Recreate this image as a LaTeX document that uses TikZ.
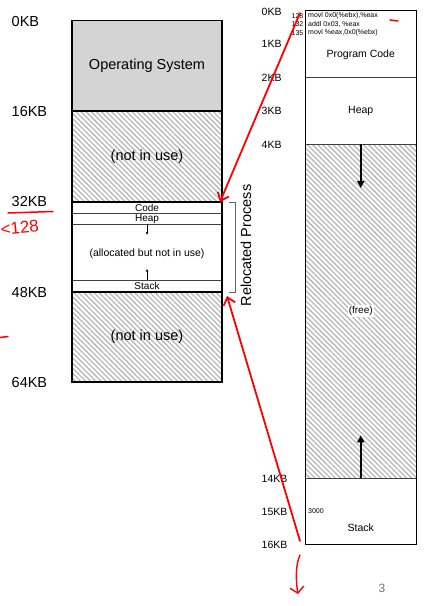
\documentclass[tikz,border=0pt]{standalone}
\usepackage{fontspec}
\setmainfont{Liberation Sans}
\usetikzlibrary{patterns.meta,arrows.meta}
\tikzset{
  region/.style={draw=black!75, line width=0.6pt, inner sep=0pt, outer sep=0pt},
  lcol/.style={region, minimum width=150pt},
  rcol/.style={region, minimum width=110.5pt},
  hatch/.style={pattern={Lines[angle=-45,distance=3.6pt,line width=1.3pt]}, pattern color=black!28},
  bigtxt/.style={font=\fontsize{14.5}{16}\selectfont},
  midtxt/.style={font=\fontsize{10.5}{12}\selectfont},
  smalltxt/.style={font=\fontsize{10}{11}\selectfont},
  codetxt/.style={font=\fontsize{7}{8}\selectfont, inner sep=0pt},
  redpen/.style={red, line width=1.8pt, line cap=round},
  redarrow/.style={redpen, -{Straight Barb[length=7pt,width=12pt,line width=1.8pt]}},
  growarrow/.style={line width=2.5pt, -{Triangle[length=7pt,width=7pt]}},
  tinyarrow/.style={line width=0.5pt, -{Stealth[length=3pt,width=2.6pt]}}
}
\begin{document}
\begin{tikzpicture}[x=1pt,y=-1pt]
\useasboundingbox (0,0) rectangle (428,606);
\fill[white] (0,0) rectangle (428,606);

% ---------- left column ----------
\node[lcol, fill=black!17, minimum height=90.5pt, bigtxt] (os) at (147,65.75) {Operating System};
\node[lcol, hatch, minimum height=91pt] (nu1) at (147,156.5) {};
\node[bigtxt] (nu1t) at (147,157) {(not in use)};
\node[lcol, fill=white, minimum height=11.3pt] (code) at (147,207.65) {};
\node[smalltxt] (codet) at (147,207.6) {Code};
\node[lcol, fill=white, minimum height=11pt] (heap) at (147,218.8) {};
\node[smalltxt] (heapt) at (147,218.8) {Heap};
\node[lcol, fill=white, minimum height=55.7pt] (alloc) at (147,252.15) {};
\node[font=\fontsize{10.5}{12}\selectfont] (alloct) at (147,254) {(allocated but not in use)};
\node[lcol, fill=white, minimum height=12pt] (stack) at (147,286) {};
\node[smalltxt] (stackt) at (147,286) {Stack};
\node[lcol, hatch, minimum height=90pt] (nu2) at (147,337) {};
\node[bigtxt] (nu2t) at (147,337) {(not in use)};

\draw[line width=1.6pt] (os.south west) -- (os.south east);
\draw[line width=1.6pt] (code.north west) -- (code.north east);
\draw[line width=1.6pt] (nu2.north west) -- (nu2.north east);
\draw[line width=1.8pt] (os.north west) rectangle (nu2.south east);

\draw[tinyarrow] (heap.south) -- ++(0,10.5);
\draw[tinyarrow] (stack.north) -- ++(0,-11);

% left address labels
\node[bigtxt, anchor=west, inner sep=0pt] (l0) at (11.5,22) {0KB};
\node[bigtxt, anchor=west, inner sep=0pt] (l16) at (11.5,111.5) {16KB};
\node[bigtxt, anchor=west, inner sep=0pt] (l32) at (11.5,202) {32KB};
\node[bigtxt, anchor=west, inner sep=0pt] (l48) at (11.5,292.5) {48KB};
\node[bigtxt, anchor=west, inner sep=0pt] (l64) at (11.5,382.5) {64KB};

% bracket
\coordinate (bt) at (229,202.5);
\coordinate (bb) at (229,292);
\draw[black!60, line width=0.9pt] (bt) -- (235.7,202.5) -- (235.7,292) -- (bb);
\node[bigtxt, rotate=90] (reloc) at (246,245.5) {Relocated Process};

% ---------- right column ----------
\node[rcol, fill=white, minimum height=67pt] (pcode) at (360.75,44.2) {};
\node[rcol, fill=white, minimum height=66.3pt] (rheap) at (360.75,110.85) {};
\node[rcol, hatch, minimum height=334.3pt] (free) at (360.75,311.15) {};
\node[rcol, fill=white, minimum height=65.7pt] (rstack) at (360.75,511.15) {};
\draw[line width=0.9pt] (pcode.north west) rectangle (rstack.south east);

\node[midtxt] (pcodet) at (360.75,55) {Program Code};
\node[midtxt] (rheapt) at (360.75,111) {Heap};
\node[smalltxt, fill=white, inner sep=1pt] (freet) at (360.75,311) {(free)};
\node[midtxt] (rstackt) at (360.75,528) {Stack};
\node[codetxt, anchor=west] (v3000) at (308,511) {3000};

\draw[growarrow] (rheap.south) -- ++(0,44);
\draw[growarrow] (rstack.north) -- ++(0,-43);

% code lines
\node[codetxt, anchor=east] (n1) at (303.5,16) {128};
\node[codetxt, anchor=east] (n2) at (303.5,24.3) {132};
\node[codetxt, anchor=east] (n3) at (303.5,33) {135};
\node[codetxt, anchor=west] (c1) at (308,16) {movl 0x0(\%ebx),\%eax};
\node[codetxt, anchor=west] (c2) at (308,24.3) {addl 0x03, \%eax};
\node[codetxt, anchor=west] (c3) at (308,33) {movl \%eax,0x0(\%ebx)};

% right address labels
\node[midtxt, anchor=west, inner sep=0pt] (r0) at (261.5,12) {0KB};
\node[midtxt, anchor=west, inner sep=0pt] (r1) at (261.5,44) {1KB};
\node[midtxt, anchor=west, inner sep=0pt] (r2) at (261.5,77.5) {2KB};
\node[midtxt, anchor=west, inner sep=0pt] (r3) at (261.5,111) {3KB};
\node[midtxt, anchor=west, inner sep=0pt] (r4) at (261.5,145) {4KB};
\node[midtxt, anchor=west, inner sep=0pt] (r14) at (261.5,478.5) {14KB};
\node[midtxt, anchor=west, inner sep=0pt] (r15) at (261.5,511.5) {15KB};
\node[midtxt, anchor=west, inner sep=0pt] (r16) at (261.5,545) {16KB};

% page number
\node[font=\fontsize{12}{14}\selectfont, text=black!55] (pg) at (382,588) {3};

% ---------- red annotations ----------
\coordinate (a1s) at (300,13);
\coordinate (a1e) at (220,202);
\draw[redarrow] (a1s) -- (a1e);
\coordinate (a2s) at (300,541);
\coordinate (a2e) at (227,296);
\draw[redarrow] (a2s) -- (a2e);
\coordinate (a3s) at (300,555);
\coordinate (a3e) at (298,594);
\draw[redpen, line width=1.4pt, -{Straight Barb[length=6pt,width=14pt,line width=1.4pt]}] (a3s) .. controls (295,566) and (296,582) .. (a3e);
\coordinate (m1s) at (390,20);
\coordinate (m1e) at (398,21);
\draw[redpen, line width=1.5pt] (m1s) -- (m1e);
\coordinate (m2s) at (8,213);
\coordinate (m2e) at (53,211.5);
\draw[redpen, line width=1.5pt] (m2s) -- (m2e);
\coordinate (m3s) at (0,337.5);
\coordinate (m3e) at (8,336.5);
\draw[redpen, line width=1.5pt] (m3s) -- (m3e);
\node[text=red, font=\fontsize{17}{17}\selectfont, rotate=6, anchor=west, inner sep=0pt] (lt128) at (0.5,229.5) {<128};
\end{tikzpicture}
\end{document}
